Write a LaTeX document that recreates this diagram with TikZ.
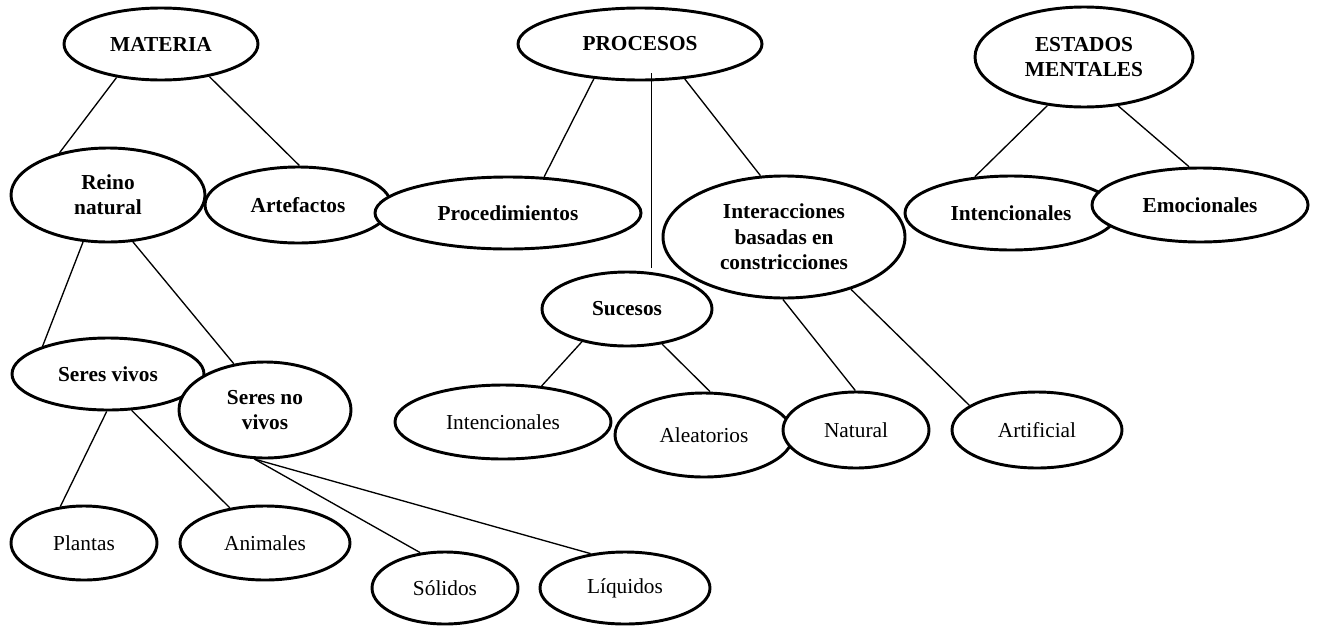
\documentclass[tikz,border=0pt]{standalone}
\usepackage{fontspec}
\setmainfont{Liberation Serif}
\usetikzlibrary{shapes.geometric}
\tikzset{
  el/.style 2 args={ellipse, draw, fill=white, line width=2.2pt, inner sep=0pt,
    align=center, minimum width=#1*0.75pt, minimum height=#2*0.75pt,
    font=\fontsize{16}{19}\selectfont},
  bd/.style={font=\fontsize{16}{19}\selectfont\bfseries},
  link/.style={line width=1pt}
}
\begin{document}
\begin{tikzpicture}[x=0.75pt,y=-0.75pt]
\useasboundingbox (0,0) rectangle (1319,625);
% level 0
\node[el={194}{72},bd] (materia) at (161,44) {MATERIA};
\node[el={244}{72},bd] (procesos) at (640,44) {PROCESOS};
\node[el={218}{100},bd] (estados) at (1084,57) {ESTADOS\\MENTALES};
% level 1
\node[el={194}{94},bd] (reino) at (108,195) {Reino\\natural};
\node[el={186}{76},bd] (artef) at (298,205) {Artefactos};
\node[el={266}{72},bd] (proced) at (508,213) {Procedimientos};
\node[el={242}{122},bd] (inter) at (784,237) {Interacciones\\basadas en\\constricciones};
\node[el={212}{74},bd] (intenc1) at (1011,213) {Intencionales};
\node[el={216}{74},bd] (emoc) at (1200,205) {Emocionales};
\node[el={170}{74},bd] (sucesos) at (627,309) {Sucesos};
% level 2
\node[el={192}{72},bd] (vivos) at (108,374) {Seres vivos};
\node[el={172}{96},bd] (novivos) at (265,410) {Seres no\\vivos};
\node[el={216}{74}] (intenc2) at (503,422) {Intencionales};
\node[el={178}{84}] (aleat) at (704,435) {Aleatorios};
\node[el={146}{76}] (natural) at (856,430) {Natural};
\node[el={170}{76}] (artif) at (1037,430) {Artificial};
% level 3
\node[el={146}{74}] (plantas) at (84,543) {Plantas};
\node[el={170}{74}] (animales) at (265,543) {Animales};
\node[el={146}{72}] (solidos) at (445,588) {Sólidos};
\node[el={170}{72}] (liquidos) at (625,588) {Líquidos};
% connectors
\draw[link] (materia.217.8) -- (reino.139.3);
\draw[link] (materia.326) -- (artef.88.5);
\draw[link] (procesos.217.5) -- (proced.45);
\draw[link] (procesos.322.5) -- (inter.111.8);
\draw[link] ([yshift=6pt]procesos.287) -- ++(0,195);
\draw[link] (estados.233.1) -- (intenc1.135);
\draw[link] (estados.305.3) -- (emoc.106);
\draw[link] (reino.242) -- (vivos.157.4);
\draw[link] (reino.298) -- (novivos.124);
\draw[link] (vivos.268) -- (plantas.123.7);
\draw[link] (vivos.303.3) -- (animales.135);
\draw[link] (novivos.258.5) -- (solidos.125.2);
\draw[link] (novivos.258.5) -- (liquidos.135.8);
\draw[link] (sucesos.216) -- (intenc2.43.4);
\draw[link] (sucesos.315) -- (aleat.82);
\draw[link] (inter.269) -- (natural.91.5);
\draw[link] (inter.322) -- (artif.160.1);
\end{tikzpicture}
\end{document}
